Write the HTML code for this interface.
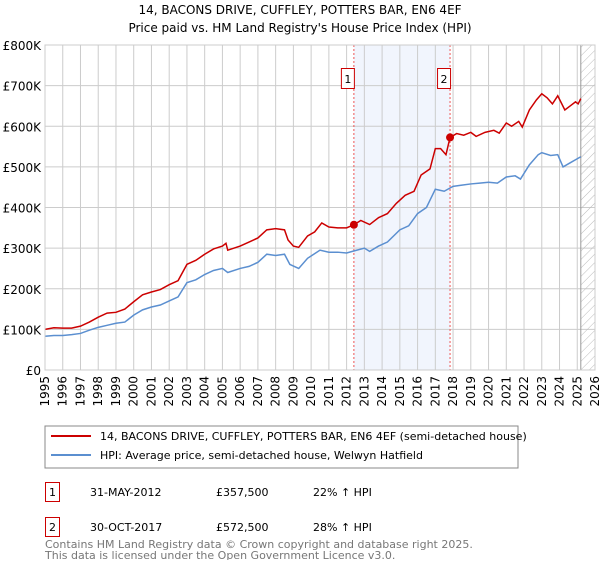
<!DOCTYPE html>
<html><head><meta charset="utf-8"><style>
body{margin:0;background:#fff;font-family:"DejaVu Sans","Liberation Sans",sans-serif;}
svg text{font-family:"DejaVu Sans","Liberation Sans",sans-serif;}
</style></head><body>
<svg id="c" width="600" height="560" xmlns="http://www.w3.org/2000/svg">
<defs><pattern id="hatch" width="6" height="6" patternUnits="userSpaceOnUse" patternTransform="rotate(45)"><line x1="0" y1="0" x2="0" y2="6" stroke="#bbb" stroke-width="1"/></pattern></defs>
<text x="300" y="14" text-anchor="middle" font-size="12" fill="#000">14, BACONS DRIVE, CUFFLEY, POTTERS BAR, EN6 4EF</text>
<text x="300" y="32" text-anchor="middle" font-size="12" fill="#000">Price paid vs. HM Land Registry's House Price Index (HPI)</text>
<g id="plot"></g>
<rect x="45" y="426" width="473" height="42" fill="#fff" stroke="#888"/>
<line x1="51" y1="436" x2="91" y2="436" stroke="#cc0000" stroke-width="2"/>
<text x="100" y="440" font-size="11">14, BACONS DRIVE, CUFFLEY, POTTERS BAR, EN6 4EF (semi-detached house)</text>
<line x1="51" y1="455" x2="91" y2="455" stroke="#5b8fd0" stroke-width="2"/>
<text x="100" y="459" font-size="11">HPI: Average price, semi-detached house, Welwyn Hatfield</text>
<g font-size="11">
<rect x="45.5" y="482.5" width="14" height="19" fill="#fff" stroke="#cc0000"/><text x="52.5" y="496" text-anchor="middle">1</text>
<text x="90" y="496">31-MAY-2012</text><text x="216" y="496">£357,500</text><text x="313" y="496">22% ↑ HPI</text>
<rect x="45.5" y="517.5" width="14" height="19" fill="#fff" stroke="#cc0000"/><text x="52.5" y="531" text-anchor="middle">2</text>
<text x="90" y="531">30-OCT-2017</text><text x="216" y="531">£572,500</text><text x="313" y="531">28% ↑ HPI</text>
</g>
<text x="45" y="548" font-size="11" fill="#777">Contains HM Land Registry data © Crown copyright and database right 2025.</text>
<text x="45" y="559" font-size="11" fill="#777">This data is licensed under the Open Government Licence v3.0.</text>
</svg>
<script>
const redX=[1995.0,1995.5,1996,1996.5,1997,1997.5,1998,1998.5,1999,1999.5,2000,2000.5,2001,2001.5,2002,2002.5,2003,2003.5,2004,2004.5,2005,2005.2,2005.3,2006,2006.5,2007,2007.5,2008,2008.5,2008.7,2009,2009.3,2009.8,2010.2,2010.6,2011,2011.5,2012,2012.41,2012.8,2013.3,2013.8,2014.3,2014.8,2015.3,2015.8,2016.2,2016.7,2017,2017.3,2017.6,2017.83,2018.2,2018.6,2019,2019.3,2019.8,2020.3,2020.6,2021,2021.3,2021.7,2021.9,2022.3,2022.7,2023,2023.3,2023.6,2023.9,2024.3,2024.6,2024.9,2025.05,2025.2];
const redY=[100,104,103,103,108,118,130,140,142,150,168,185,192,198,210,220,260,270,285,298,305,312,295,305,315,325,345,348,345,320,305,302,330,340,362,352,350,350,357.5,368,358,375,385,410,430,440,480,495,545,545,530,572.5,582,578,585,575,585,590,583,608,600,612,598,640,665,680,670,655,675,640,650,660,655,668];
const hpiX=[1995,1995.5,1996,1996.5,1997,1997.5,1998,1998.5,1999,1999.5,2000,2000.5,2001,2001.5,2002,2002.5,2003,2003.5,2004,2004.5,2005,2005.3,2006,2006.5,2007,2007.5,2008,2008.5,2008.8,2009.3,2009.8,2010.5,2011,2011.5,2012,2012.4,2013,2013.3,2013.8,2014.3,2015,2015.5,2016,2016.5,2017,2017.5,2018,2018.5,2019,2019.5,2020,2020.5,2021,2021.5,2021.8,2022.3,2022.8,2023,2023.5,2023.9,2024.2,2024.6,2025,2025.2];
const hpiY=[83,85,85,87,90,98,105,110,115,118,135,148,155,160,170,180,215,222,235,245,250,240,250,255,265,285,282,285,260,250,275,295,290,290,288,293,300,292,305,315,345,355,385,400,445,440,452,455,458,460,462,460,475,478,470,505,530,535,528,530,500,510,520,525];
const sales=[[2012.41,357.5],[2017.83,572.5]];
const yTicks=[0,100,200,300,400,500,600,700,800];
const yLabels=["£0","£100K","£200K","£300K","£400K","£500K","£600K","£700K","£800K"];
const years=[1995,1996,1997,1998,1999,2000,2001,2002,2003,2004,2005,2006,2007,2008,2009,2010,2011,2012,2013,2014,2015,2016,2017,2018,2019,2020,2021,2022,2023,2024,2025,2026];
const L=45,R=595,T=45,B=370;
const sx=v=>L+(v-1995)/(2026-1995)*(R-L);
const sy=v=>B-v/800*(B-T);
const g=document.getElementById('plot');
const NS='http://www.w3.org/2000/svg';
function mk(t,a){const e=document.createElementNS(NS,t);for(const k in a)e.setAttribute(k,a[k]);g.appendChild(e);return e;}
let e=mk('rect',{x:sx(sales[0][0]),y:T,width:sx(sales[1][0])-sx(sales[0][0]),height:B-T,fill:'#eef3fc',opacity:0.8});


years.forEach(y=>{const l=mk('line',{x1:sx(y),x2:sx(y),y1:T,y2:B,stroke:'#ccc','stroke-width':1});


const t=mk('text',{x:0,y:0,'font-size':12,'text-anchor':'end',transform:`translate(${sx(y)+4},${B+6}) rotate(-90)`});t.textContent=y;

});
yTicks.forEach((v,i)=>{const l=mk('line',{x1:L,x2:R,y1:sy(v),y2:sy(v),stroke:'#ccc','stroke-width':1});


const t=mk('text',{x:L-4,y:sy(v)+5,'font-size':12,'text-anchor':'end'});t.textContent=yLabels[i];

});
e=mk('rect',{x:sx(2025.2),y:T,width:R-sx(2025.2),height:B-T,fill:'url(#hatch)',stroke:'#999'});


sales.forEach((s,i)=>{const l=mk('line',{x1:sx(s[0]),x2:sx(s[0]),y1:T,y2:B,stroke:'#e55','stroke-dasharray':'2,2'});


const r=mk('rect',{x:sx(s[0])-12.5,y:68.5,width:13,height:20,fill:'#fff',stroke:'#cc0000'});


const t=mk('text',{x:sx(s[0])-6,y:83,'font-size':11,'text-anchor':'middle'});t.textContent=i+1;

});
function line(xs,ys,c,n){const p=mk('polyline',{points:xs.map((x,i)=>sx(x)+','+sy(ys[i])).join(' '),fill:'none',stroke:c,'stroke-width':1.5});

}
line(hpiX,hpiY,'#5b8fd0','hpi-line');
line(redX,redY,'#cc0000','property-line');
sales.forEach(s=>{const c=mk('circle',{cx:sx(s[0]),cy:sy(s[1]),r:4,fill:'#cc0000'});

});
const ax=mk('rect',{x:L,y:T,width:R-L,height:B-T,fill:'none',stroke:'#ccc'});


</script>
</body></html>
